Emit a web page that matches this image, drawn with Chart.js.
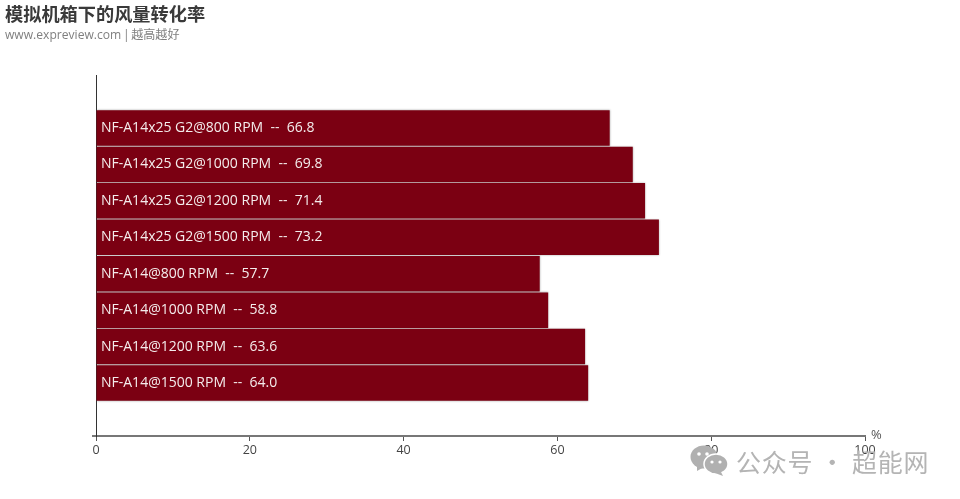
<!DOCTYPE html>
<html lang="zh">
<head>
<meta charset="UTF-8">
<title>模拟机箱下的风量转化率</title>
<script src="https://cdn.jsdelivr.net/npm/chart.js"></script>
<style>
    html, body { margin: 0; padding: 0; background: #fff; overflow: hidden; }
    .wrap { position: relative; width: 960px; height: 499px; }
    canvas { position: absolute; left: 0; top: 0; }
    .title { position: absolute; left: 5px; top: 0; font: bold 18.2px 'Noto Sans CJK SC', sans-serif; line-height: 26px; color: #3a3a3a; white-space: nowrap; }
    .sub { position: absolute; left: 5px; top: 26px; font: 12.1px 'Open Sans', 'Noto Sans CJK SC', sans-serif; line-height: 18px; color: #7f7f7f; white-space: nowrap; word-spacing: -1.5px; }
    .mark { position: absolute; left: 736px; top: 445px; font: 25px 'Noto Sans CJK SC', sans-serif; line-height: 32px; color: #b4b4b4; letter-spacing: 0.8px; white-space: pre; }
    .icon { position: absolute; left: 690px; top: 444px; }
</style>
</head>
<body>
<div class="wrap">
    <canvas id="chart" width="960" height="499"></canvas>
    <div class="title">模拟机箱下的风量转化率</div>
    <div class="sub">www.expreview.com | 越高越好</div>
    <svg class="icon" width="40" height="32" viewBox="0 0 40 32">
        <ellipse cx="14" cy="13" rx="13.5" ry="11.5" fill="#b0b0b0"/>
        <path d="M7 21 L7 27 L14 23 Z" fill="#b0b0b0"/>
        <ellipse cx="26" cy="20" rx="12" ry="10" fill="#b0b0b0" stroke="#fff" stroke-width="1.5"/>
        <path d="M31 28 L33 32 L25 29 Z" fill="#b0b0b0"/>
        <circle cx="9" cy="10" r="1.8" fill="#fff"/>
        <circle cx="17" cy="10" r="1.8" fill="#fff"/>
        <circle cx="22" cy="18" r="1.6" fill="#fff"/>
        <circle cx="30" cy="18" r="1.6" fill="#fff"/>
    </svg>
    <div class="mark">公众号 · 超能网</div>
</div>
<script>
    const categories = [
        'NF-A14x25 G2@800 RPM',
        'NF-A14x25 G2@1000 RPM',
        'NF-A14x25 G2@1200 RPM',
        'NF-A14x25 G2@1500 RPM',
        'NF-A14@800 RPM',
        'NF-A14@1000 RPM',
        'NF-A14@1200 RPM',
        'NF-A14@1500 RPM'
    ];
    const values = [66.8, 69.8, 71.4, 73.2, 57.7, 58.8, 63.6, 64.0];
    const xTicks = [0, 20, 40, 60, 80, 100];
    const unit = '%';

    // bar labels sit inside the bars, starting at the axis
    const barLabels = {
        id: 'barLabels',
        beforeDatasetsDraw(chart) {
            const ctx = chart.ctx;
            ctx.save();
            ctx.shadowColor = 'rgba(0,0,0,0.35)';
            ctx.shadowBlur = 2;
        },
        afterDatasetsDraw(chart) {
            const ctx = chart.ctx;
            ctx.restore();
            const { x, y } = chart.scales;
            ctx.save();
            ctx.font = "14px 'Open Sans', sans-serif";
            ctx.fillStyle = '#f4ecec';
            ctx.textBaseline = 'middle';
            categories.forEach((name, i) => {
                ctx.fillText(`${name}  --  ${values[i].toFixed(1)}`, x.getPixelForValue(0) + 5, y.getPixelForValue(i));
            });
            ctx.restore();
        },
        afterDraw(chart) {
            const ctx = chart.ctx;
            const { x, y } = chart.scales;
            ctx.save();
            // small stub left of the origin and the unit at the end of the axis
            ctx.strokeStyle = '#777';
            ctx.lineWidth = 2;
            ctx.beginPath();
            ctx.moveTo(x.left - 4, y.bottom);
            ctx.lineTo(x.left, y.bottom);
            ctx.stroke();
            ctx.font = "13px 'Open Sans', sans-serif";
            ctx.fillStyle = '#555';
            ctx.textBaseline = 'middle';
            ctx.fillText(unit, x.right + 6, y.bottom - 1);
            ctx.restore();
        }
    };

    new Chart(document.getElementById('chart'), {
        type: 'bar',
        plugins: [barLabels],
        data: {
            datasets: [{
                data: values.map((v, i) => ({ x: v, y: i })),
                backgroundColor: '#7b0012',
                borderWidth: 0,
                barPercentage: 0.975,
                categoryPercentage: 1
            }]
        },
        options: {
            indexAxis: 'y',
            responsive: false,
            animation: false,
            layout: { padding: { top: 75, right: 95 } },
            plugins: { legend: { display: false }, tooltip: { enabled: false } },
            scales: {
                x: {
                    type: 'linear',
                    min: 0,
                    max: 100,
                    afterBuildTicks(axis) { axis.ticks = xTicks.map(value => ({ value })); },
                    afterFit(axis) { axis.height = 63; },
                    grid: { display: true, drawOnChartArea: false, drawTicks: true, tickLength: 5, color: '#555' },
                    border: { display: true, color: '#777', width: 2 },
                    ticks: {
                        color: '#444',
                        maxRotation: 0,
                        padding: 2,
                        font: { family: "'Open Sans', sans-serif", size: 12.5 }
                    }
                },
                y: {
                    type: 'linear',
                    reverse: true,
                    offset: false,
                    min: -1.455,
                    max: 8.455,
                    afterBuildTicks(axis) { axis.ticks = categories.map((_, i) => ({ value: i })); },
                    afterFit(axis) { axis.width = 96; },
                    grid: { display: false, offset: false },
                    border: { display: true, color: '#333', width: 1 },
                    ticks: { display: false }
                }
            }
        }
    });
</script>
</body>
</html>
